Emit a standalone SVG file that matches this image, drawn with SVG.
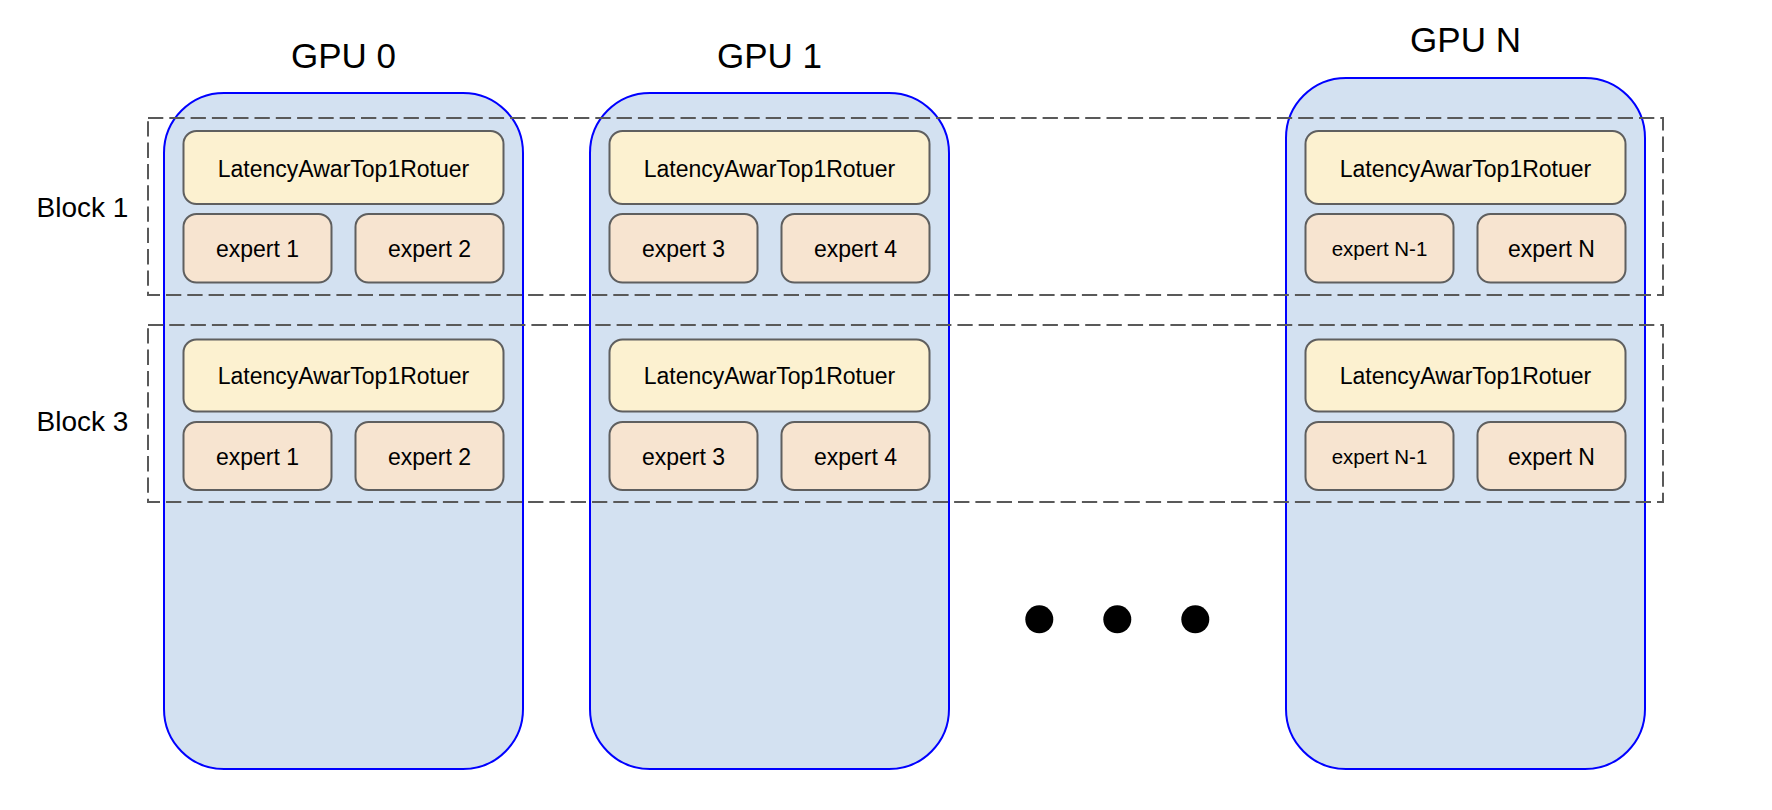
<svg xmlns="http://www.w3.org/2000/svg" width="1772" height="810" viewBox="0 0 1772 810">
<style>
  .gpu { fill: #d3e1f1; stroke: #0000ff; stroke-width: 2; }
  .router { fill: #fcf1d0; stroke: #5f5f5f; stroke-width: 2; }
  .expert { fill: #f7e4d0; stroke: #5f5f5f; stroke-width: 2; }
  .block { fill: none; stroke: #595959; stroke-width: 2; stroke-dasharray: 15.3 6; }
  text { font-family: "Liberation Sans", Arial, sans-serif; fill: #000; }
  .title { font-size: 35px; text-anchor: middle; }
  .blabel { font-size: 28px; }
  .lbl { font-size: 23px; text-anchor: middle; }
  .lbl-s { font-size: 20.5px; text-anchor: middle; }
  .dot { fill: #000; }
</style>
<rect width="1772" height="810" fill="#ffffff"/>

<g id="gpu0">
  <rect class="gpu" x="164" y="93" width="359" height="676" rx="60" ry="60"/>
  <text class="title" x="343.5" y="67.7">GPU 0</text>
</g>
<g id="gpu1">
  <rect class="gpu" x="590" y="93" width="359" height="676" rx="60" ry="60"/>
  <text class="title" x="769.5" y="67.7">GPU 1</text>
</g>
<g id="gpuN">
  <rect class="gpu" x="1286" y="78" width="359" height="691" rx="60" ry="60"/>
  <text class="title" x="1465.5" y="52.3">GPU N</text>
</g>

<g id="block1">
  <rect class="block" x="148" y="118" width="1515" height="177"/>
  <text class="blabel" x="36.5" y="216.7">Block 1</text>
</g>
<g id="block3">
  <rect class="block" x="148" y="325" width="1515" height="177"/>
  <text class="blabel" x="36.5" y="430.7">Block 3</text>
</g>

<!-- Block 1 contents -->
<g id="b1-gpu0-router">
  <rect class="router" x="183.5" y="131" width="320" height="73" rx="13"/>
  <text class="lbl" x="343.5" y="176.5">LatencyAwarTop1Rotuer</text>
</g>
<g id="b1-gpu0-expert1">
  <rect class="expert" x="183.5" y="214" width="148" height="68.5" rx="13"/>
  <text class="lbl" x="257.5" y="256.7">expert 1</text>
</g>
<g id="b1-gpu0-expert2">
  <rect class="expert" x="355.5" y="214" width="148" height="68.5" rx="13"/>
  <text class="lbl" x="429.5" y="256.7">expert 2</text>
</g>

<g id="b1-gpu1-router">
  <rect class="router" x="609.5" y="131" width="320" height="73" rx="13"/>
  <text class="lbl" x="769.5" y="176.5">LatencyAwarTop1Rotuer</text>
</g>
<g id="b1-gpu1-expert3">
  <rect class="expert" x="609.5" y="214" width="148" height="68.5" rx="13"/>
  <text class="lbl" x="683.5" y="256.7">expert 3</text>
</g>
<g id="b1-gpu1-expert4">
  <rect class="expert" x="781.5" y="214" width="148" height="68.5" rx="13"/>
  <text class="lbl" x="855.5" y="256.7">expert 4</text>
</g>

<g id="b1-gpuN-router">
  <rect class="router" x="1305.5" y="131" width="320" height="73" rx="13"/>
  <text class="lbl" x="1465.5" y="176.5">LatencyAwarTop1Rotuer</text>
</g>
<g id="b1-gpuN-expertN-1">
  <rect class="expert" x="1305.5" y="214" width="148" height="68.5" rx="13"/>
  <text class="lbl-s" x="1379.5" y="256">expert N-1</text>
</g>
<g id="b1-gpuN-expertN">
  <rect class="expert" x="1477.5" y="214" width="148" height="68.5" rx="13"/>
  <text class="lbl" x="1551.5" y="256.7">expert N</text>
</g>

<!-- Block 3 contents -->
<g id="b3-gpu0-router">
  <rect class="router" x="183.5" y="339.5" width="320" height="72" rx="13"/>
  <text class="lbl" x="343.5" y="384.3">LatencyAwarTop1Rotuer</text>
</g>
<g id="b3-gpu0-expert1">
  <rect class="expert" x="183.5" y="422" width="148" height="68" rx="13"/>
  <text class="lbl" x="257.5" y="465">expert 1</text>
</g>
<g id="b3-gpu0-expert2">
  <rect class="expert" x="355.5" y="422" width="148" height="68" rx="13"/>
  <text class="lbl" x="429.5" y="465">expert 2</text>
</g>

<g id="b3-gpu1-router">
  <rect class="router" x="609.5" y="339.5" width="320" height="72" rx="13"/>
  <text class="lbl" x="769.5" y="384.3">LatencyAwarTop1Rotuer</text>
</g>
<g id="b3-gpu1-expert3">
  <rect class="expert" x="609.5" y="422" width="148" height="68" rx="13"/>
  <text class="lbl" x="683.5" y="465">expert 3</text>
</g>
<g id="b3-gpu1-expert4">
  <rect class="expert" x="781.5" y="422" width="148" height="68" rx="13"/>
  <text class="lbl" x="855.5" y="465">expert 4</text>
</g>

<g id="b3-gpuN-router">
  <rect class="router" x="1305.5" y="339.5" width="320" height="72" rx="13"/>
  <text class="lbl" x="1465.5" y="384.3">LatencyAwarTop1Rotuer</text>
</g>
<g id="b3-gpuN-expertN-1">
  <rect class="expert" x="1305.5" y="422" width="148" height="68" rx="13"/>
  <text class="lbl-s" x="1379.5" y="464.3">expert N-1</text>
</g>
<g id="b3-gpuN-expertN">
  <rect class="expert" x="1477.5" y="422" width="148" height="68" rx="13"/>
  <text class="lbl" x="1551.5" y="465">expert N</text>
</g>

<g id="ellipsis">
  <circle class="dot" cx="1039.3" cy="619.3" r="14"/>
  <circle class="dot" cx="1117.3" cy="619.3" r="14"/>
  <circle class="dot" cx="1195.3" cy="619.3" r="14"/>
</g>

<g id="connectors"></g>
</svg>
